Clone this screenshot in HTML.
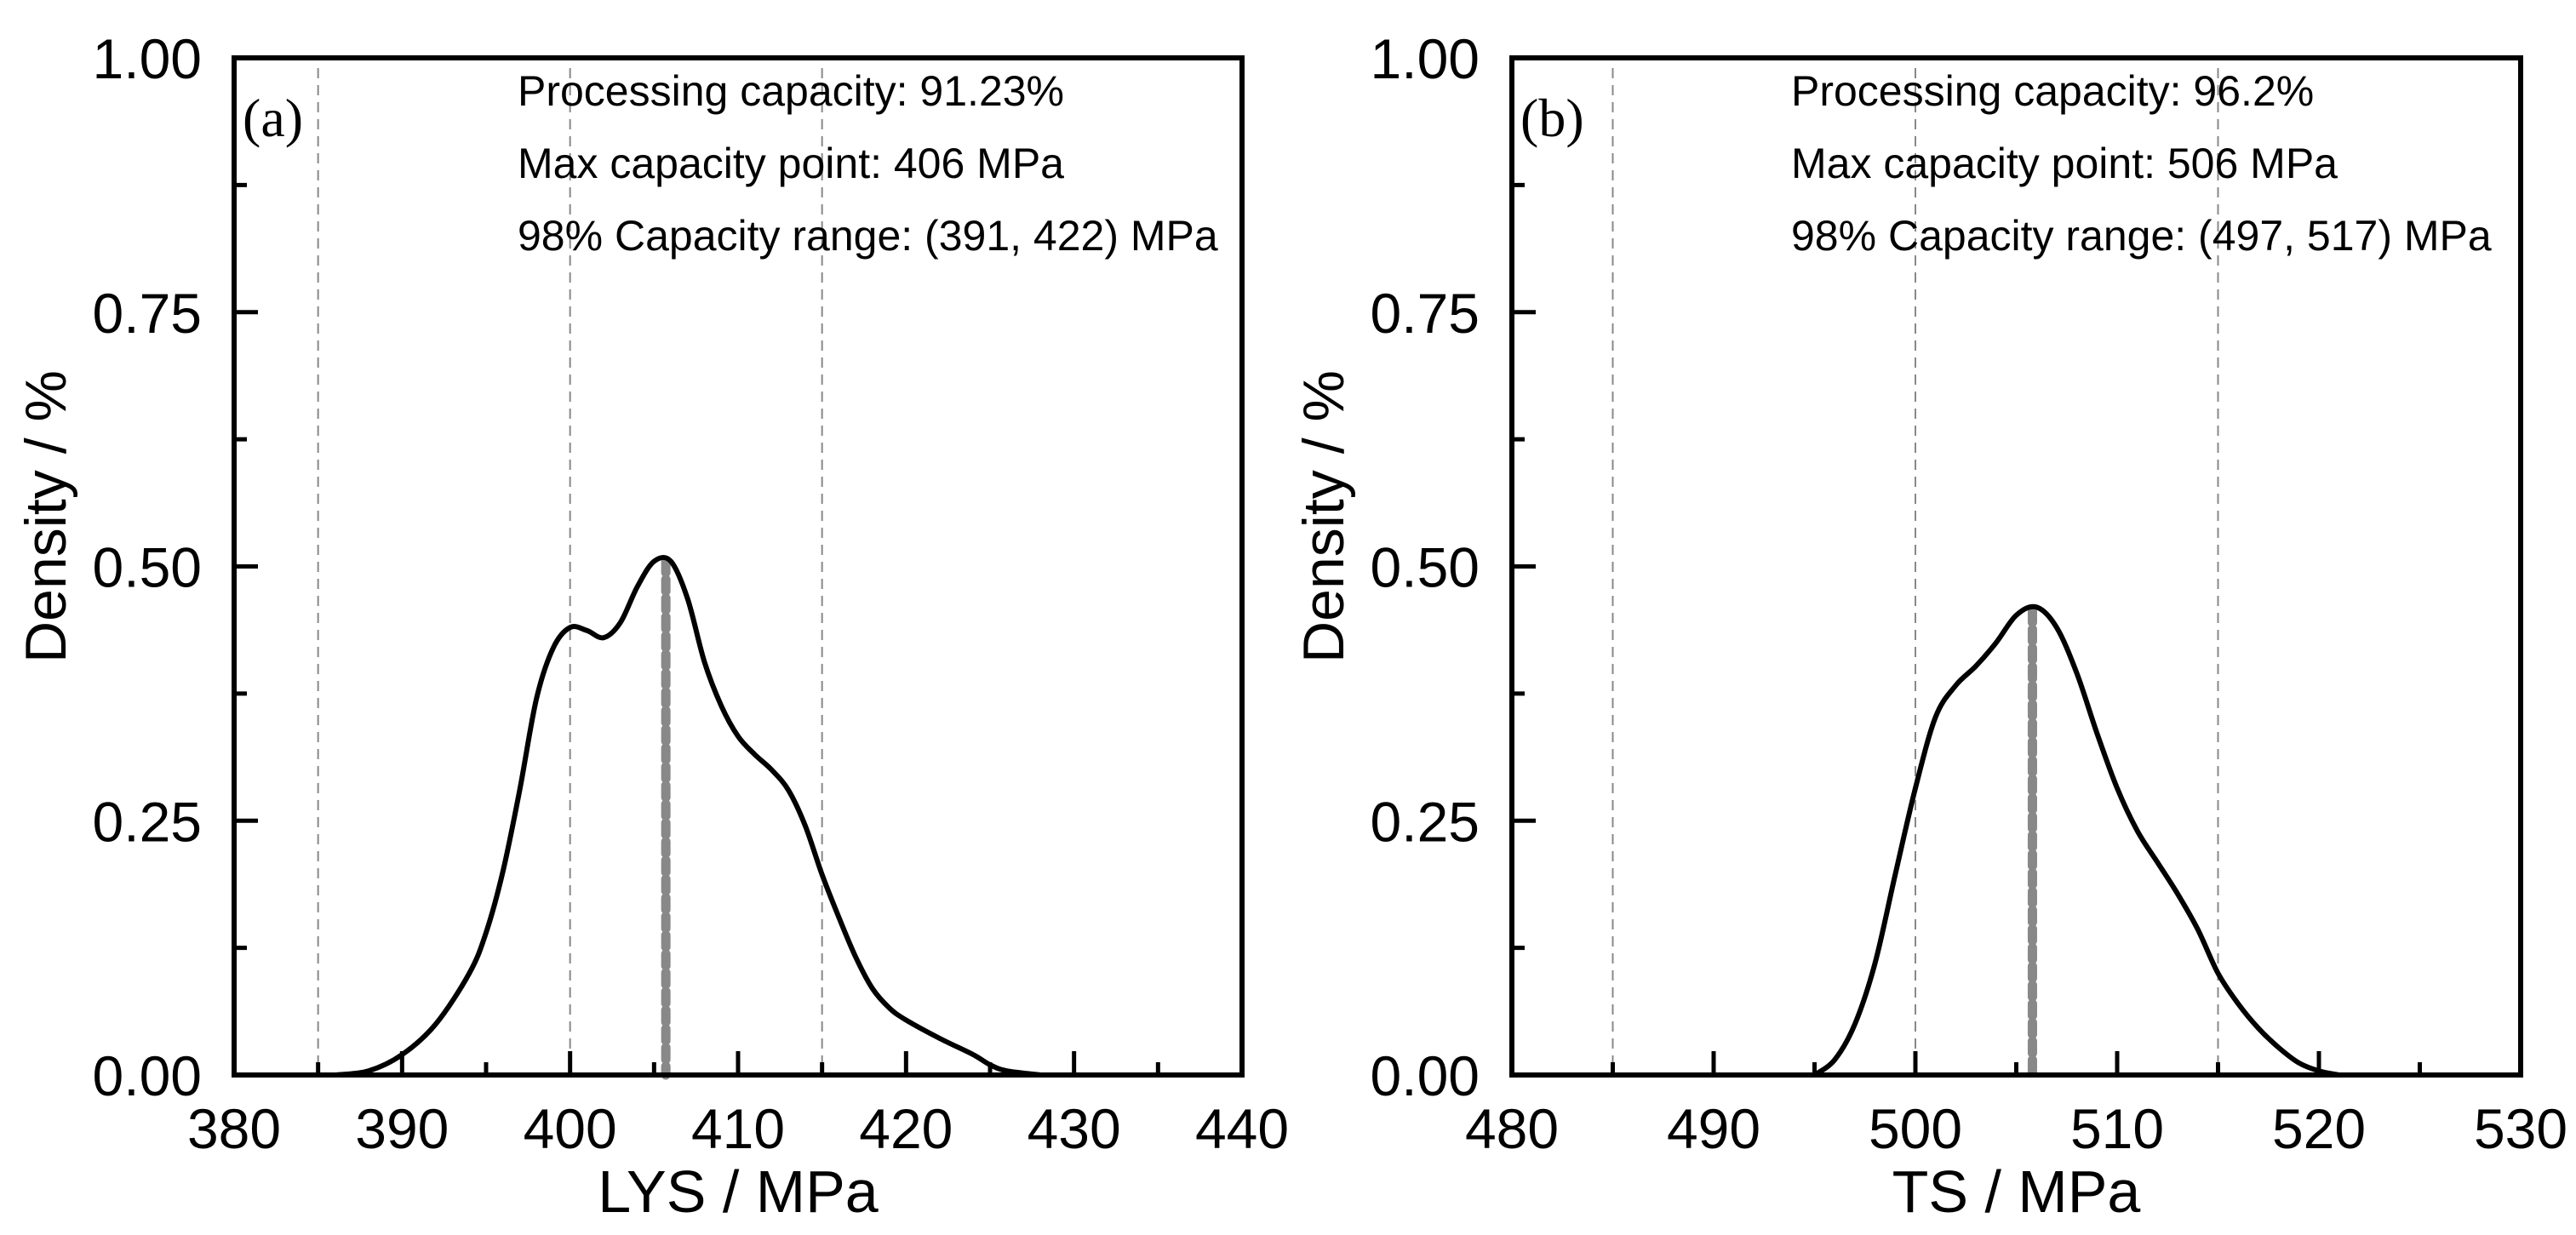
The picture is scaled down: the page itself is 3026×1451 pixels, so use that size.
<!DOCTYPE html>
<html><head><meta charset="utf-8"><style>
html,body{margin:0;padding:0;background:#fff;}
svg{display:block;}
text{font-family:"Liberation Sans",sans-serif;fill:#000;}
</style></head>
<body>
<svg id="fig" width="3026" height="1451" viewBox="0 0 3026 1451" xmlns="http://www.w3.org/2000/svg"></svg>
<script>
// Panel (a) data: LYS
const xA = [386,388,390,392,394,395,396,397,398,399,400,401,402,403,404,405,406,407,408,409,410,411,412,413,414,415,416,417,418,419,420,422,424,425,426,428];
const yA = [0,0.004,0.02,0.05,0.10,0.14,0.20,0.28,0.37,0.42,0.44,0.437,0.43,0.445,0.48,0.505,0.505,0.468,0.406,0.363,0.333,0.315,0.30,0.28,0.245,0.197,0.155,0.116,0.085,0.066,0.054,0.036,0.02,0.01,0.004,0];
// Panel (b) data: TS
const xB = [495,496,497,498,499,500,501,502,503,504,505,506,507,508,509,510,511,512,513,514,515,516,517,518,519,520,521];
const yB = [0,0.015,0.05,0.11,0.197,0.282,0.352,0.383,0.402,0.425,0.452,0.46,0.44,0.395,0.336,0.282,0.24,0.209,0.178,0.143,0.10,0.07,0.046,0.027,0.012,0.004,0];
const xTicksA = [380,390,400,410,420,430,440];
const xTicksB = [480,490,500,510,520,530];
const yTicks = [0,0.25,0.5,0.75,1.0];
const yTickLabels = ["0.00","0.25","0.50","0.75","1.00"];
const guidesA = [385,400,415];
const guidesB = [485,500,515];
const peakA = [405.7,0.509];
const peakB = [505.8,0.46];
const textA = ["Processing capacity: 91.23%","Max capacity point: 406 MPa","98% Capacity range: (391, 422) MPa"];
const textB = ["Processing capacity: 96.2%","Max capacity point: 506 MPa","98% Capacity range: (497, 517) MPa"];

const NS="http://www.w3.org/2000/svg";
const svg=document.getElementById('fig');
function mk(tag,attrs,parent){const e=document.createElementNS(NS,tag);for(const k in attrs)e.setAttribute(k,attrs[k]);(parent||svg).appendChild(e);return e;}

function panel(cfg){
  const L=cfg.left,R=cfg.right,T=68,B=1263;
  const g=mk('g',{});
  
  
  const sx=v=>L+(v-cfg.xmin)/(cfg.xmax-cfg.xmin)*(R-L);
  const sy=v=>B-(v-0)/(1-0)*(B-T);
  cfg.guides.forEach(v=>{
    const l=mk('line',{x1:sx(v),x2:sx(v),y1:T+12,y2:B,stroke:'#888','stroke-width':2,'stroke-dasharray':'12 8'},g);
    
    
  });
  const pk=mk('line',{x1:sx(cfg.peak[0]),x2:sx(cfg.peak[0]),y1:sy(cfg.peak[1])+4,y2:B,stroke:'#888','stroke-width':11,'stroke-dasharray':'14 8','stroke-linecap':'round'},g);
  
  
  const px=cfg.xs.map(sx),py=cfg.ys.map(sy);
  let d='M'+px[0]+','+py[0];
  for(let i=0;i<px.length-1;i++){
    const x0=px[Math.max(i-1,0)],y0=py[Math.max(i-1,0)],x1=px[i],y1=py[i],x2=px[i+1],y2=py[i+1],x3=px[Math.min(i+2,px.length-1)],y3=py[Math.min(i+2,px.length-1)];
    d+=' C'+(x1+(x2-x0)/6)+','+(y1+(y2-y0)/6)+' '+(x2-(x3-x1)/6)+','+(y2-(y3-y1)/6)+' '+x2+','+y2;
  }
  const c=mk('path',{d:d,fill:'none',stroke:'#000','stroke-width':6,'stroke-linejoin':'round'},g);
  
  
  const fr=mk('rect',{x:L,y:T,width:R-L,height:B-T,fill:'none',stroke:'#000','stroke-width':6},g);
  
  
  for(let v=cfg.xmin;v<=cfg.xmax;v+=5){
    const major=(v%10===0);
    const t=mk('line',{x1:sx(v),x2:sx(v),y1:B,y2:B-(major?28:15),stroke:'#000','stroke-width':5},g);
    
    
  }
  cfg.xticks.forEach(v=>{
    const t=mk('text',{x:sx(v),y:1349,'font-size':66,'text-anchor':'middle'},g);
    t.textContent=v;
    
    
  });
  for(let k=0;k<=8;k++){
    const v=k*0.125;const major=(k%2===0);
    const t=mk('line',{x1:L,x2:L+(major?28:15),y1:sy(v),y2:sy(v),stroke:'#000','stroke-width':5},g);
    
    
  }
  yTicks.forEach((v,i)=>{
    const t=mk('text',{x:L-38,y:sy(v)+24,'font-size':66,'text-anchor':'end'},g);
    t.textContent=yTickLabels[i];
    
    
  });
  const xt=mk('text',{x:(L+R)/2,y:1424,'font-size':70,'text-anchor':'middle'},g);
  xt.textContent=cfg.xtitle;
  
  
  const yt=mk('text',{x:0,y:0,'font-size':68,'text-anchor':'middle',transform:'translate('+(L-198)+',607) rotate(-90)'},g);
  yt.textContent='Density / %';
  
  
  const pl=mk('text',{x:L+10,y:160,'font-size':64,style:'font-family:"Liberation Serif",serif'},g);
  pl.textContent=cfg.label;
  
  
  cfg.text.forEach((s,i)=>{
    const t=mk('text',{x:cfg.textX,y:124+i*85,'font-size':50},g);
    t.textContent=s;
    
    
  });
}
panel({name:'panel-a',left:275,right:1459,xmin:380,xmax:440,xs:xA,ys:yA,xticks:xTicksA,guides:guidesA,peak:peakA,text:textA,textX:608,label:'(a)',xtitle:'LYS / MPa'});
panel({name:'panel-b',left:1776,right:2961,xmin:480,xmax:530,xs:xB,ys:yB,xticks:xTicksB,guides:guidesB,peak:peakB,text:textB,textX:2104,label:'(b)',xtitle:'TS / MPa'});
</script>
</body></html>
